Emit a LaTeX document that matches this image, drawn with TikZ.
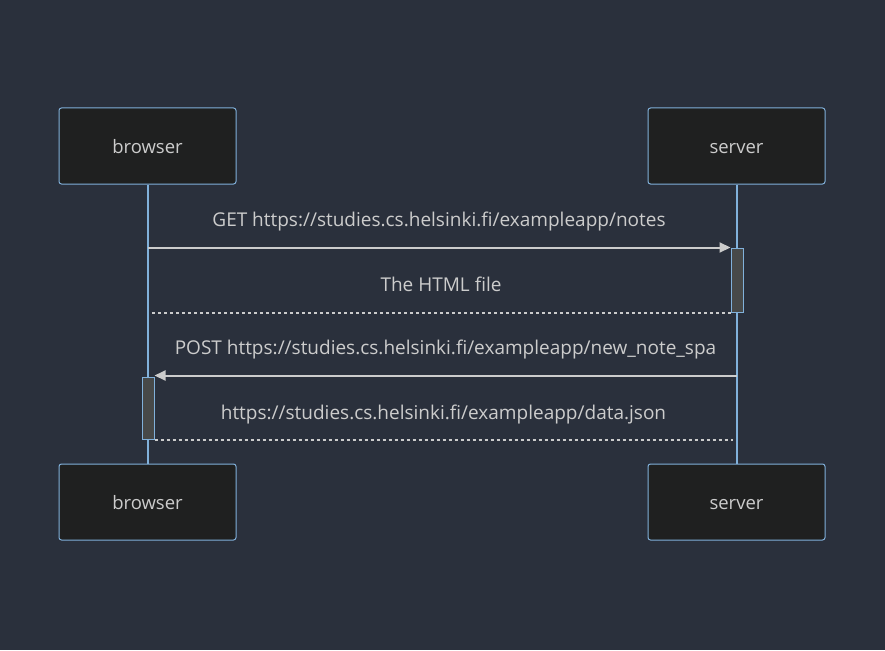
\documentclass[tikz,border=0pt]{standalone}
\usepackage{fontspec}
\setmainfont{Open Sans}
\usepackage{tikz}
\usetikzlibrary{arrows.meta,calc,positioning}
\definecolor{bg}{HTML}{2A303C}
\definecolor{boxfill}{HTML}{1F2020}
\definecolor{edge}{HTML}{81B1DB}
\definecolor{msg}{HTML}{CCCCCC}
\definecolor{actfill}{HTML}{474949}

\tikzset{
  actor/.style={draw=edge,fill=boxfill,line width=1pt,rounded corners=2.5pt,
    minimum width=177pt,minimum height=76pt,text=msg,font=\fontsize{18.5}{20}\selectfont,
    text height=14pt,text depth=0pt},
  activ/.style={draw=edge,fill=actfill,line width=1pt,minimum width=12pt,inner sep=0pt},
  lifeline/.style={draw=edge,line width=2pt},
  call/.style={draw=msg,line width=2pt,-{Triangle[length=11pt,width=10pt]}},
  reply/.style={draw=msg,line width=2pt,dash pattern=on 3pt off 3pt},
  msglabel/.style={text=msg,font=\fontsize{19}{21}\selectfont,anchor=base,yshift=21pt}
}

\begin{document}
\begin{tikzpicture}[x=1pt,y=-1pt]
  \fill[bg] (0,0) rectangle (885,650);
  \useasboundingbox (0,0) rectangle (885,650);

  % participants
  \node[actor] (brTop) at (147.5,146) {browser};
  \node[actor] (svTop) at (736.5,146) {server};
  \node[actor] (brBot) at (147.5,502) {browser};
  \node[actor] (svBot) at (736.5,502) {server};

  \draw[lifeline] (brTop.south) -- (brBot.north);
  \draw[lifeline] (svTop.south) -- (svBot.north);

  % activations
  \node[activ,minimum height=64pt] (svAct) at (737,280) {};
  \node[activ,minimum height=62pt] (brAct) at (148,408) {};

  \coordinate (getStart) at (brTop.south |- svAct.north);
  \coordinate (htmlEnd) at ($(brTop.south |- svAct.south)+(4,0)$);
  \coordinate (postStart) at ($(svTop.south |- brAct.north)+(0,-1)$);
  \coordinate (jsonEnd) at ($(svTop.south |- brAct.south)+(-4,0)$);

  % messages
  \draw[call] (getStart) -- (svAct.north west)
    node[msglabel,midway] {GET https://studies.cs.helsinki.fi/exampleapp/notes};
  \draw[reply] (svAct.south west) -- (htmlEnd)
    node[msglabel,midway] {The HTML file};
  \draw[call] (postStart) -- ($(brAct.north east)+(0,-1)$)
    node[msglabel,midway] {POST https://studies.cs.helsinki.fi/exampleapp/new\_note\_spa};
  \draw[reply] (brAct.south east) -- (jsonEnd)
    node[msglabel,midway,yshift=-1pt] {https://studies.cs.helsinki.fi/exampleapp/data.json};
\end{tikzpicture}
\end{document}
